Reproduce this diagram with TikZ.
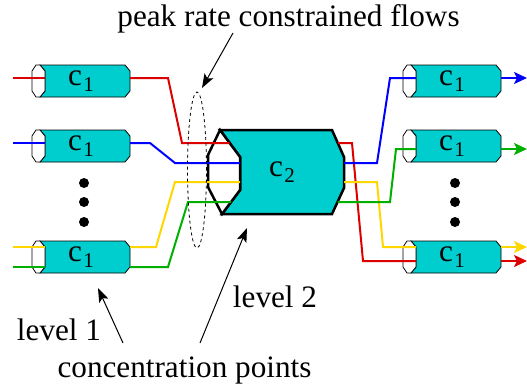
\documentclass[tikz,border=0pt]{standalone}
\usepackage{fontspec}
\setmainfont{Liberation Serif}
\usepackage{tikz}
\usetikzlibrary{shapes.geometric,arrows.meta,positioning,calc,backgrounds}

\definecolor{flowred}{RGB}{220,0,0}
\definecolor{flowblue}{RGB}{0,0,255}
\definecolor{flowyellow}{RGB}{255,215,0}
\definecolor{flowgreen}{RGB}{0,175,0}
\definecolor{concfill}{RGB}{0,206,206}

\newcommand{\csub}[1]{c\kern1.5pt\raisebox{-6pt}{\fontsize{21}{21}\selectfont #1}}

\begin{document}
\begin{tikzpicture}[
  x=1pt, y=-1pt,
  font=\fontsize{31.2}{36}\selectfont,
  conc/.style={rectangle, minimum width=98pt, minimum height=32pt, inner sep=0pt, outer sep=0pt},
  hub/.style={rectangle, minimum width=124pt, minimum height=84pt, inner sep=0pt, outer sep=0pt},
  concbody/.style={fill=concfill, draw=black, line width=0.8pt},
  concend/.style={fill=white, draw=black, line width=0.8pt},
  hubbody/.style={fill=concfill, draw=black, line width=2.5pt},
  hubend/.style={fill=white, draw=black, line width=2.5pt},
  flow/.style={line width=2pt},
  flowtip/.style={-{Stealth[length=13pt,width=12pt,inset=3pt]}},
  pointer/.style={line width=1pt, -{Stealth[length=14pt,width=10pt,inset=3pt]}},
  dot/.style={circle, fill, inner sep=0pt, minimum size=10pt},
  lbl/.style={anchor=base, inner sep=0pt}
]
\useasboundingbox (0,0) rectangle (527,388);

% Level 1 concentrators
\node[conc] (l1) at (81,81) {\csub{1}};
\node[conc, below=33pt of l1] (l2) {\csub{1}};
\node[conc, below=79pt of l2] (l3) {\csub{1}};
\node[conc, right=273pt of l1] (r1) {\csub{1}};
\node[conc, right=273pt of l2] (r2) {\csub{1}};
\node[conc, right=273pt of l3] (r3) {\csub{1}};

% Level 2 concentrator
\node[hub] (core) at (282,172) {\csub{2}};

% Dots
\foreach \y [count=\i] in {183,202,222} {
  \node[dot] (ldot\i) at (84,\y) {};
  \node[dot] (rdot\i) at (455,\y) {};
}

% Box outlines
\begin{scope}[on background layer]
  \foreach \b in {l1,l2,l3,r1,r2,r3} {
    \begin{scope}[shift={(\b.center)}]
      \filldraw[concbody] (-41,-16) -- (44,-16) -- (49,-10) -- (49,10) -- (44,16) -- (-41,16) -- (-36,10) -- (-36,-10) -- cycle;
      \filldraw[concend] (-45,-16) -- (-41,-16) -- (-36,-10) -- (-36,10) -- (-41,16) -- (-45,16) -- (-49,10) -- (-49,-10) -- cycle;
    \end{scope}
  }
  \begin{scope}[shift={(core.center)}]
    \filldraw[hubbody] (-62,-42) -- (50,-42) -- (62,-15) -- (62,16) -- (50,42) -- (-60,42) -- (-42,18) -- (-42,-15) -- cycle;
    \filldraw[hubend] (-62,-42) -- (-42,-15) -- (-42,18) -- (-60,42) -- (-74,15) -- (-74,-17) -- cycle;
  \end{scope}
\end{scope}

% Flow ends
\coordinate (in1) at (13,78);
\coordinate (in2) at (13,143);
\coordinate (in3) at (13,247);
\coordinate (in4) at (13,267);
\coordinate (out1) at (527,78);
\coordinate (out2) at (527,149);
\coordinate (out3) at (527,247);
\coordinate (out4) at (527,261);

% Red flow
\draw[flow, flowred] (in1) -- ($(l1.center)+(-36,-3)$);
\draw[flow, flowred] ($(l1.center)+(49,-3)$) -- (168,78) -- (182,143) -- ($(core.center)+(-52.4,-29)$);
\draw[flow, flowred] ($(core.center)+(55.8,-29)$) -- (352,143) -- (363,261) -- ($(r3.center)+(-36,4)$);
\draw[flow, flowred, flowtip] ($(r3.center)+(49,4)$) -- (out4);

% Blue flow
\draw[flow, flowblue] (in2) -- ($(l2.center)+(-36,-3)$);
\draw[flow, flowblue] ($(l2.center)+(49,-3)$) -- (150,143) -- (175,163) -- ($(core.center)+(-42,-9)$);
\draw[flow, flowblue] ($(core.center)+(62,-9)$) -- (377,163) -- (390,78) -- ($(r1.center)+(-36,-3)$);
\draw[flow, flowblue, flowtip] ($(r1.center)+(49,-3)$) -- (out1);

% Yellow flow
\draw[flow, flowyellow] (in3) -- ($(l3.center)+(-36,-10)$);
\draw[flow, flowyellow] ($(l3.center)+(49,-10)$) -- (156,247) -- (175,182) -- ($(core.center)+(-42,10)$);
\draw[flow, flowyellow] ($(core.center)+(62,10)$) -- (377,182) -- (383,247) -- ($(r3.center)+(-36,-10)$);
\draw[flow, flowyellow, flowtip] ($(r3.center)+(49,-10)$) -- (out3);

% Green flow
\draw[flow, flowgreen] (in4) -- ($(l3.center)+(-36,10)$);
\draw[flow, flowgreen] ($(l3.center)+(49,10)$) -- (168,267) -- (188,202) -- ($(core.center)+(-51,30)$);
\draw[flow, flowgreen] ($(core.center)+(55.5,30)$) -- (390,202) -- (396,149) -- ($(r2.center)+(-36,3)$);
\draw[flow, flowgreen, flowtip] ($(r2.center)+(49,3)$) -- (out2);

% Peak rate bundle
\node[draw, dashed, ellipse, minimum width=19pt, minimum height=156pt, inner sep=0pt, line width=0.8pt] (flows) at (197,170) {};

% Labels
\node[lbl] (ptitle) at (288.5,26) {peak rate constrained flows};
\node[lbl] (lev2) at (275,307) {level 2};
\node[lbl] (lev1) at (59,340) {level 1};
\node[lbl] (cpoints) at (184.5,377) {concentration points};

% Pointers
\coordinate (ptail) at (233,33);
\coordinate (phead) at (202,88);
\coordinate (l2tail) at (200,343);
\coordinate (l2head) at (247,228);
\coordinate (l1tail) at (123,343);
\coordinate (l1head) at (98,288);
\draw[pointer] (ptail) -- (phead);
\draw[pointer] (l2tail) -- (l2head);
\draw[pointer] (l1tail) -- (l1head);
\end{tikzpicture}
\end{document}
